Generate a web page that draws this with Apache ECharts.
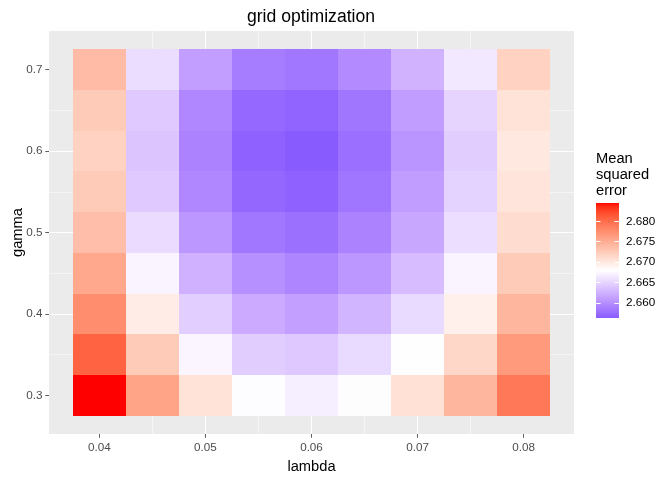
<!DOCTYPE html>
<html><head><meta charset="utf-8">
<script src="https://cdn.jsdelivr.net/npm/echarts@6/dist/echarts.min.js"></script>
<style>html,body{margin:0;padding:0;background:#fff}#c{width:672px;height:480px}</style>
</head><body><div id="c"></div>
<script>
// ---- data ----
const lambdas = [0.04, 0.045, 0.05, 0.055, 0.06, 0.065, 0.07, 0.075, 0.08];
const gammas  = [0.3, 0.35, 0.4, 0.45, 0.5, 0.55, 0.6, 0.65, 0.7];
const mse_g030 = [2.6845, 2.6758, 2.6705, 2.6678, 2.6669, 2.6681, 2.6706, 2.6743, 2.6792];
const mse_g035 = [2.6807, 2.6725, 2.6673, 2.6645, 2.6641, 2.6654, 2.6680, 2.6715, 2.6766];
const mse_g040 = [2.6776, 2.6696, 2.6646, 2.6620, 2.6612, 2.6628, 2.6654, 2.6693, 2.6743];
const mse_g045 = [2.6754, 2.6672, 2.6625, 2.6601, 2.6593, 2.6606, 2.6633, 2.6672, 2.6725];
const mse_g050 = [2.6736, 2.6655, 2.6606, 2.6583, 2.6578, 2.6591, 2.6618, 2.6657, 2.6710];
const mse_g055 = [2.6725, 2.6642, 2.6595, 2.6572, 2.6568, 2.6581, 2.6610, 2.6648, 2.6703];
const mse_g060 = [2.6719, 2.6639, 2.6591, 2.6568, 2.6563, 2.6577, 2.6604, 2.6645, 2.6700];
const mse_g065 = [2.6725, 2.6642, 2.6595, 2.6573, 2.6569, 2.6582, 2.6610, 2.6650, 2.6704];
const mse_g070 = [2.6738, 2.6656, 2.6611, 2.6587, 2.6583, 2.6597, 2.6626, 2.6664, 2.6719];
const mseRows = [mse_g030, mse_g035, mse_g040, mse_g045, mse_g050, mse_g055, mse_g060, mse_g065, mse_g070];

const xTicks = [0.04, 0.05, 0.06, 0.07, 0.08];
const yTicks = [0.3, 0.4, 0.5, 0.6, 0.7];
const legendTicks = [2.660, 2.665, 2.670, 2.675, 2.680];
const chartTitle = 'grid optimization';
const xTitle = 'lambda';
const yTitle = 'gamma';
const legendTitle = 'Mean\nsquared\nerror';
const colorMid = 2.668;

// ---- derived ----
const cells = [];
gammas.forEach((g, i) => lambdas.forEach((l, j) => cells.push([l, g, mseRows[i][j]])));
const vals = cells.map(c => c[2]);
const vMin = Math.min(...vals), vMax = Math.max(...vals);
const stepX = lambdas[1] - lambdas[0];
const stepY = gammas[1] - gammas[0];
const xlo = lambdas[0] - stepX / 2, xhi = lambdas[lambdas.length - 1] + stepX / 2;
const ylo = gammas[0] - stepY / 2, yhi = gammas[gammas.length - 1] + stepY / 2;
const xExp = 0.05 * (xhi - xlo), yExp = 0.05 * (yhi - ylo);

// ---- Lab colour interpolation (like ggplot gradient2) ----
function hex2rgb(h){return [parseInt(h.substr(1,2),16),parseInt(h.substr(3,2),16),parseInt(h.substr(5,2),16)];}
function lin(c){c/=255;return c<=0.04045?c/12.92:Math.pow((c+0.055)/1.055,2.4);}
function unlin(c){c=c<=0.0031308?12.92*c:1.055*Math.pow(c,1/2.4)-0.055;return Math.max(0,Math.min(255,Math.round(c*255)));}
const Xn=0.95047,Yn=1,Zn=1.08883;
function f(t){return t>0.008856?Math.cbrt(t):7.787*t+16/116;}
function finv(t){return t>0.206893?t*t*t:(t-16/116)/7.787;}
function toLab(h){const [r,g,b]=hex2rgb(h).map(lin);
  const X=0.4124*r+0.3576*g+0.1805*b,Y=0.2126*r+0.7152*g+0.0722*b,Z=0.0193*r+0.1192*g+0.9505*b;
  const fx=f(X/Xn),fy=f(Y/Yn),fz=f(Z/Zn);return [116*fy-16,500*(fx-fy),200*(fy-fz)];}
function fromLab(L){const fy=(L[0]+16)/116,fx=fy+L[1]/500,fz=fy-L[2]/200;
  const X=Xn*finv(fx),Y=Yn*finv(fy),Z=Zn*finv(fz);
  const r=3.2406*X-1.5372*Y-0.4986*Z,g=-0.9689*X+1.8758*Y+0.0415*Z,b=0.0557*X-0.2040*Y+1.0570*Z;
  const v=[unlin(r),unlin(g),unlin(b)];return 'rgb('+v.join(',')+')';}
const labLow=toLab('#0000FF'),labMid=toLab('#FFFFFF'),labHigh=toLab('#FF0000');
const dHalf=Math.max(vMax-colorMid,colorMid-vMin);
function colorAt(v){let t=(v-colorMid)/dHalf;const tgt=t>=0?labHigh:labLow;t=Math.min(1,Math.abs(t));
  return fromLab([0,1,2].map(k=>labMid[k]+(tgt[k]-labMid[k])*t));}
const NS=80;
const rampColors=[];for(let k=0;k<=NS;k++)rampColors.push(colorAt(vMin+(vMax-vMin)*k/NS));
const gradStops=[];for(let k=0;k<=NS;k++)gradStops.push({offset:k/NS,color:colorAt(vMax-(vMax-vMin)*k/NS)});

const FONT='"Liberation Sans", Arial, sans-serif';
const chart=echarts.init(document.getElementById('c'),null,{renderer:'canvas'});
chart.setOption({
  backgroundColor:'#FFFFFF',
  animation:false,
  textStyle:{fontFamily:FONT},
  title:[
    {text:chartTitle,left:311,top:8,padding:0,textAlign:'center',textStyle:{fontFamily:FONT,fontSize:17.6,fontWeight:'normal',color:'#000'}},
    {text:legendTitle,left:596,top:151,padding:0,textStyle:{fontFamily:FONT,fontSize:14.7,lineHeight:16,fontWeight:'normal',color:'#000'}}
  ],
  grid:[
    {left:49,top:31,width:525,height:403,show:true,backgroundColor:'#EBEBEB',borderWidth:0,containLabel:false,outerBoundsMode:'none'},
    {left:596,top:203,width:23,height:115,show:false,containLabel:false,outerBoundsMode:'none'}
  ],
  xAxis:[
    {type:'value',gridIndex:0,min:xlo-xExp,max:xhi+xExp,minInterval:0.01,maxInterval:0.01,
     axisLine:{show:false},
     axisTick:{show:true,length:3.7,lineStyle:{color:'#333333',width:0.8},customValues:xTicks},
     axisLabel:{customValues:xTicks,fontSize:11.7,color:'#4D4D4D',margin:8,fontFamily:FONT,formatter:v=>String(+v.toFixed(3))},
     splitLine:{show:true,showMinLine:false,showMaxLine:false,lineStyle:{color:'#FFFFFF',width:1.07}},
     minorTick:{show:false,splitNumber:2},
     minorSplitLine:{show:true,lineStyle:{color:'#FFFFFF',width:0.53}},
     name:xTitle,nameLocation:'middle',nameGap:25,nameMoveOverlap:false,nameTextStyle:{fontSize:14.7,color:'#000',fontFamily:FONT}},
    {type:'value',gridIndex:1,min:0,max:1,show:false}
  ],
  yAxis:[
    {type:'value',gridIndex:0,min:ylo-yExp,max:yhi+yExp,minInterval:0.1,maxInterval:0.1,
     axisLine:{show:false},
     axisTick:{show:true,length:3.7,lineStyle:{color:'#333333',width:0.8},customValues:yTicks},
     axisLabel:{customValues:yTicks,fontSize:11.7,color:'#4D4D4D',margin:6.5,fontFamily:FONT,formatter:v=>String(+v.toFixed(3))},
     splitLine:{show:true,showMinLine:false,showMaxLine:false,lineStyle:{color:'#FFFFFF',width:1.07}},
     minorTick:{show:false,splitNumber:2},
     minorSplitLine:{show:true,lineStyle:{color:'#FFFFFF',width:0.53}},
     name:yTitle,nameLocation:'middle',nameGap:24,nameMoveOverlap:false,nameRotate:90,nameTextStyle:{fontSize:14.7,color:'#000',fontFamily:FONT}},
    {type:'value',gridIndex:1,position:'left',min:vMin,max:vMax,z:10,
     axisLine:{show:false},splitLine:{show:false},axisLabel:{show:false},
     axisTick:{show:true,inside:true,length:4.6,lineStyle:{color:'#FFFFFF',width:1},customValues:legendTicks}},
    {type:'value',gridIndex:1,position:'right',min:vMin,max:vMax,z:10,
     axisLine:{show:false},splitLine:{show:false},
     axisTick:{show:true,inside:true,length:4.6,lineStyle:{color:'#FFFFFF',width:1},customValues:legendTicks},
     axisLabel:{show:true,customValues:legendTicks,fontSize:11.7,color:'#000',margin:7,fontFamily:FONT,formatter:v=>v.toFixed(3)}}
  ],
  visualMap:{type:'continuous',show:false,seriesIndex:0,dimension:2,min:vMin,max:vMax,inRange:{color:rampColors}},
  series:[
    {type:'custom',xAxisIndex:0,yAxisIndex:0,data:cells,encode:{x:0,y:1},
     renderItem:function(params,api){
       const x=api.value(0),y=api.value(1);
       const p0=api.coord([x-stepX/2,y+stepY/2]),p1=api.coord([x+stepX/2,y-stepY/2]);
       const x0=Math.round(p0[0]),y0=Math.round(p0[1]),x1=Math.round(p1[0]),y1=Math.round(p1[1]);
       return {type:'rect',shape:{x:x0,y:y0,width:x1-x0,height:y1-y0},style:{fill:api.visual('color')}};
     }},
    {type:'custom',xAxisIndex:1,yAxisIndex:1,data:[[0,vMin,1,vMax]],encode:{x:[0,2],y:[1,3]},silent:true,
     renderItem:function(params,api){
       const p0=api.coord([api.value(0),api.value(3)]),p1=api.coord([api.value(2),api.value(1)]);
       return {type:'rect',shape:{x:p0[0],y:p0[1],width:p1[0]-p0[0],height:p1[1]-p0[1]},
         style:{fill:{type:'linear',x:0,y:0,x2:0,y2:1,colorStops:gradStops}}};
     }}
  ]
});
</script></body></html>
